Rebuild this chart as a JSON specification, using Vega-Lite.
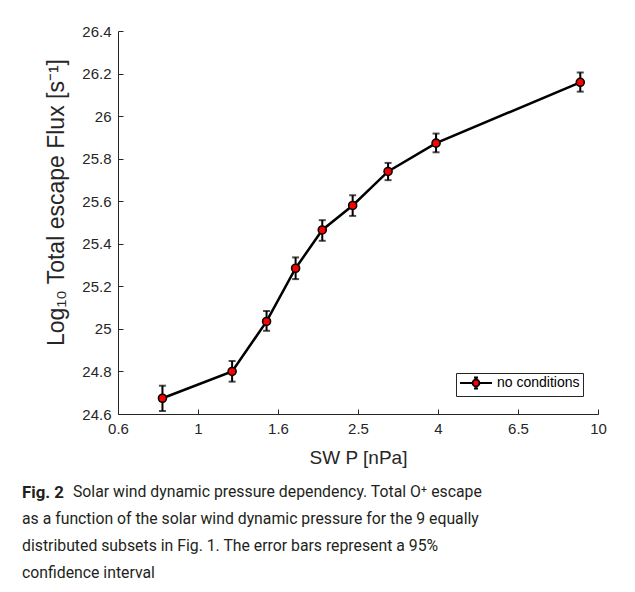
{
  "$schema": "https://vega.github.io/schema/vega-lite/v6.json",
  "autosize": {"type": "none"},
  "padding": {"left": 118, "top": 31, "right": 37, "bottom": 178},
  "width": 480,
  "height": 383,
  "background": "white",
  "config": {
    "view": {"stroke": null},
    "font": "Liberation Sans",
    "axis": {
      "domainColor": "#262626",
      "tickColor": "#262626",
      "labelColor": "#262626",
      "titleColor": "#262626",
      "grid": false,
      "labelFont": "Liberation Sans",
      "titleFont": "Liberation Sans",
      "labelFontSize": 15,
      "titleFontSize": 19,
      "titleFontWeight": "normal",
      "tickSize": -5,
      "domainWidth": 1,
      "tickWidth": 1,
      "labelFlush": false
    }
  },
  "title": {
    "text": "Fig. 2",
    "subtitle": [
      "\u200b\u00a0\u00a0\u00a0\u00a0\u00a0\u00a0\u00a0\u00a0\u00a0\u00a0\u00a0\u00a0\u00a0Solar wind dynamic pressure dependency. Total O⁺ escape",
      "as a function of the solar wind dynamic pressure for the 9 equally",
      "distributed subsets in Fig. 1. The error bars represent a 95%",
      "confidence interval"
    ],
    "orient": "bottom",
    "anchor": "start",
    "frame": "bounds",
    "font": "Roboto",
    "fontSize": 16.8,
    "fontWeight": "bold",
    "color": "#231f20",
    "subtitleFont": "Roboto",
    "subtitleFontSize": 15.8,
    "subtitleFontWeight": "normal",
    "subtitleColor": "#231f20",
    "subtitleLineHeight": 27,
    "subtitlePadding": -17,
    "offset": 18,
    "dx": -23
  },
  "data": {
    "values": [
      {"P": 0.815, "flux": 24.674, "lo": 24.614, "hi": 24.733, "series": "no conditions"},
      {"P": 1.217, "flux": 24.800, "lo": 24.752, "hi": 24.849, "series": "no conditions"},
      {"P": 1.484, "flux": 25.035, "lo": 24.991, "hi": 25.084, "series": "no conditions"},
      {"P": 1.754, "flux": 25.285, "lo": 25.234, "hi": 25.336, "series": "no conditions"},
      {"P": 2.045, "flux": 25.465, "lo": 25.414, "hi": 25.511, "series": "no conditions"},
      {"P": 2.436, "flux": 25.580, "lo": 25.531, "hi": 25.628, "series": "no conditions"},
      {"P": 2.987, "flux": 25.740, "lo": 25.699, "hi": 25.780, "series": "no conditions"},
      {"P": 3.937, "flux": 25.873, "lo": 25.830, "hi": 25.918, "series": "no conditions"},
      {"P": 9.03, "flux": 26.159, "lo": 26.115, "hi": 26.205, "series": "no conditions"}
    ]
  },
  "encoding": {
    "x": {
      "field": "P",
      "type": "quantitative",
      "scale": {"type": "log", "domain": [0.631, 10], "nice": false, "zero": false},
      "axis": {
        "title": "SW P [nPa]",
        "values": [0.631, 1, 1.585, 2.512, 3.981, 6.31, 10],
        "labelExpr": "datum.value < 0.7 ? '0.6' : datum.value < 1.1 ? '1' : datum.value < 2 ? '1.6' : datum.value < 3 ? '2.5' : datum.value < 5 ? '4' : datum.value < 8 ? '6.5' : '10'",
        "labelPadding": 12,
        "titleY": 43,
        "titleBaseline": "middle"
      }
    }
  },
  "layer": [
    {
      "mark": {"type": "line", "color": "black", "strokeWidth": 2.5},
      "encoding": {
        "y": {
          "field": "flux",
          "type": "quantitative",
          "title": "Log₁₀ Total escape Flux [s⁻¹]",
          "scale": {"domain": [24.6, 26.4], "nice": false, "zero": false},
          "axis": {
            "values": [24.6, 24.8, 25, 25.2, 25.4, 25.6, 25.8, 26, 26.2, 26.4],
            "format": "~g",
            "labelPadding": 12,
            "titleFontSize": 23,
            "titleX": -62,
            "titleY": 171,
            "titleBaseline": "middle",
            "titleAlign": "center",
            "titleAngle": 270
          }
        }
      }
    },
    {
      "mark": {
        "type": "errorbar",
        "ticks": {"size": 7, "thickness": 2, "color": "black"},
        "rule": {"strokeWidth": 2, "color": "black"}
      },
      "encoding": {
        "y": {"field": "lo", "type": "quantitative", "title": "Log₁₀ Total escape Flux [s⁻¹]"},
        "y2": {"field": "hi"}
      }
    },
    {
      "mark": {"type": "circle", "size": 64, "stroke": "black", "strokeWidth": 1.6, "opacity": 1},
      "encoding": {
        "y": {"field": "flux", "type": "quantitative", "title": "Log₁₀ Total escape Flux [s⁻¹]"},
        "fill": {
          "field": "series",
          "type": "nominal",
          "scale": {"range": ["#ff0000"]},
          "legend": {
            "title": null,
            "orient": "none",
            "legendX": 338,
            "legendY": 342,
            "strokeColor": "#262626",
            "fillColor": "white",
            "padding": 3,
            "symbolType": "M-2.67,0L-0.58,0M0.58,0L2.67,0M0.58,0A0.58,0.58 0 1,1 -0.58,0A0.58,0.58 0 1,1 0.58,0M0,-0.58L0,-0.92M0,0.58L0,0.92M-0.33,-0.92L0.33,-0.92M-0.33,0.92L0.33,0.92",
            "symbolSize": 144,
            "symbolOffset": 10,
            "symbolStrokeColor": "black",
            "symbolStrokeWidth": 1.8,
            "symbolFillColor": "#ff0000",
            "labelFont": "Liberation Sans",
            "labelFontSize": 14,
            "labelColor": "black",
            "labelOffset": 14
          }
        }
      }
    }
  ]
}
